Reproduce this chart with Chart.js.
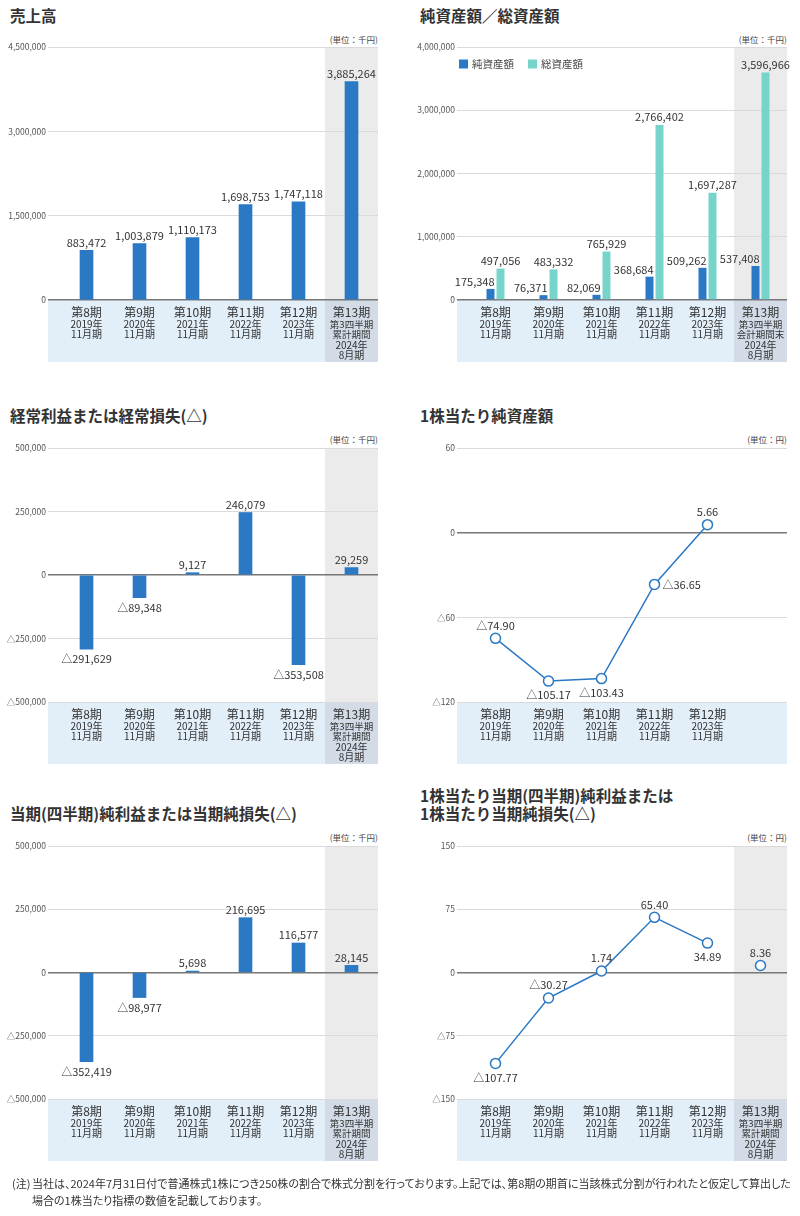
<!DOCTYPE html>
<html lang="ja">
<head>
<meta charset="utf-8">
<script src="https://cdn.jsdelivr.net/npm/chart.js@4.4.1/dist/chart.umd.min.js"></script>
<style>
  html, body { margin: 0; padding: 0; background: #fff; }
  body { width: 800px; height: 1216px; position: relative; overflow: hidden;
         font-family: 'Noto Sans CJK JP', sans-serif; color: #333; }
  canvas { position: absolute; }
  .title { position: absolute; font-size: 15.5px; font-weight: bold; line-height: 18px; white-space: nowrap; color: #333; }
  .unit { position: absolute; font-size: 8.5px; line-height: 10px; color: #444; white-space: nowrap; }
  .note { position: absolute; font-size: 11px; line-height: 13px; color: #333; white-space: nowrap; font-feature-settings: 'palt'; }
</style>
</head>
<body>
<div class="title" style="left:10px;top:6px">売上高</div>
<div class="title" style="left:420px;top:6px">純資産額／総資産額</div>
<div class="title" style="left:10px;top:406px">経常利益または経常損失(△)</div>
<div class="title" style="left:420px;top:406px">1株当たり純資産額</div>
<div class="title" style="left:10px;top:804px">当期(四半期)純利益または当期純損失(△)</div>
<div class="title" style="left:420px;top:786px">1株当たり当期(四半期)純利益または<br>1株当たり当期純損失(△)</div>

<div class="unit" style="right:422px;top:34px">(単位：千円)</div>
<div class="unit" style="right:13px;top:34px">(単位：千円)</div>
<div class="unit" style="right:422px;top:434px">(単位：千円)</div>
<div class="unit" style="right:13px;top:434px">(単位：円)</div>
<div class="unit" style="right:422px;top:832px">(単位：千円)</div>
<div class="unit" style="right:13px;top:832px">(単位：円)</div>

<canvas id="c1" width="400" height="380" style="left:0;top:0"></canvas>
<canvas id="c2" width="400" height="380" style="left:400px;top:0"></canvas>
<canvas id="c3" width="400" height="380" style="left:0;top:400px"></canvas>
<canvas id="c4" width="400" height="380" style="left:400px;top:400px"></canvas>
<canvas id="c5" width="400" height="400" style="left:0;top:780px"></canvas>
<canvas id="c6" width="400" height="400" style="left:400px;top:780px"></canvas>

<div class="note" style="left:12px;top:1177px">(注)</div>
<div class="note" style="left:32px;top:1177px">当社は、2024年7月31日付で普通株式1株につき250株の割合で株式分割を行っております。上記では、第8期の期首に当該株式分割が行われたと仮定して算出した</div>
<div class="note" style="left:32px;top:1194px">場合の1株当たり指標の数値を記載しております。</div>

<script>
// categories
const periods = ['第8期', '第9期', '第10期', '第11期', '第12期', '第13期'];
const periodNotes = [['2019年', '11月期'], ['2020年', '11月期'], ['2021年', '11月期'],
  ['2022年', '11月期'], ['2023年', '11月期'], ['第3四半期', '累計期間', '2024年', '8月期']];
const periodNotesBS = [['2019年', '11月期'], ['2020年', '11月期'], ['2021年', '11月期'],
  ['2022年', '11月期'], ['2023年', '11月期'], ['第3四半期', '会計期間末', '2024年', '8月期']];

// series (千円 / 円)
const sales = [883472, 1003879, 1110173, 1698753, 1747118, 3885264];
const netAssets = [175348, 76371, 82069, 368684, 509262, 537408];
const totalAssets = [497056, 483332, 765929, 2766402, 1697287, 3596966];
const ordinaryIncome = [-291629, -89348, 9127, 246079, -353508, 29259];
const bps = [-74.90, -105.17, -103.43, -36.65, 5.66];
const netIncome = [-352419, -98977, 5698, 216695, 116577, 28145];
const eps = [-107.77, -30.27, 1.74, 65.40, 34.89];
const epsQuarter = 8.36;

const BLUE = '#2b78c4', TEAL = '#76d4cb';
const FONT = "'Noto Sans CJK JP', sans-serif";
const BAND = 62;
Chart.defaults.font.family = FONT;

const fmt = (v, d) => (v < 0 ? '△' : '') +
  Math.abs(v).toLocaleString('en-US', { minimumFractionDigits: d, maximumFractionDigits: d });
const pts = (arr, start = 0) => arr.map((v, i) => ({ x: start + i, y: v }));

const panel = {
  id: 'panel',
  beforeDraw(chart, _, o) {
    const { ctx, chartArea: a } = chart;
    const x = chart.scales.x;
    ctx.save();
    ctx.fillStyle = '#e2eef8';
    ctx.fillRect(a.left, a.bottom, a.width, BAND);
    if (o.highlight) {
      const hx = x.getPixelForValue(4.5);
      ctx.fillStyle = '#ebebeb';
      ctx.fillRect(hx, a.top, a.right - hx, a.height);
      ctx.fillStyle = '#d3dce6';
      ctx.fillRect(hx, a.bottom, a.right - hx, BAND);
    }
    ctx.restore();
  },
  afterDatasetsDraw(chart, _, o) {
    const ctx = chart.ctx;
    ctx.save();
    ctx.fillStyle = '#333';
    ctx.font = '11px ' + FONT;
    ctx.textBaseline = 'middle';
    chart.data.datasets.forEach((ds, di) => {
      chart.getDatasetMeta(di).data.forEach((el, i) => {
        const v = ds.data[i].y;
        const pos = (ds.labelPos && ds.labelPos[i]) || (v < 0 ? 'below' : 'above');
        let tx = el.x, ty = el.y;
        ctx.textAlign = 'center';
        if (pos === 'above') ty -= o.above;
        else if (pos === 'below') ty += o.below;
        else if (pos === 'right') { ctx.textAlign = 'left'; tx += 8; }
        else if (pos === 'left') { ctx.textAlign = 'right'; tx += 4; ty -= o.above - 1; }
        ctx.fillText(fmt(v, o.decimals), tx, ty);
      });
    });
    ctx.restore();
  },
  afterDraw(chart, _, o) {
    const { ctx, chartArea: a } = chart;
    const x = chart.scales.x;
    ctx.save();
    ctx.fillStyle = '#333';
    ctx.textAlign = 'center';
    ctx.textBaseline = 'middle';
    o.names.forEach((name, i) => {
      const cx = x.getPixelForValue(i);
      ctx.font = '12px ' + FONT;
      ctx.fillText(name, cx, a.bottom + 12);
      o.notes[i].forEach((t, k) => {
        ctx.font = (i === 5 && !/^\d/.test(t) ? '9.5px ' : '10px ') + FONT;
        ctx.fillText(t, cx, a.bottom + 24 + k * 10.5);
      });
    });
    if (o.legend) {
      let lx = a.left + 2;
      const ly = a.top + 17;
      ctx.font = '10.5px ' + FONT;
      ctx.textAlign = 'left';
      chart.data.datasets.forEach(ds => {
        ctx.fillStyle = ds.backgroundColor;
        ctx.fillRect(lx, ly - 4.5, 9, 9);
        ctx.fillStyle = '#444';
        ctx.fillText(ds.label, lx + 13, ly);
        lx += 69;
      });
    }
    ctx.restore();
  }
};

function makeChart(id, c) {
  return new Chart(document.getElementById(id), {
    type: c.type,
    data: { datasets: c.datasets },
    plugins: [panel],
    options: {
      responsive: false,
      animation: false,
      devicePixelRatio: 1,
      layout: { padding: c.pad },
      plugins: {
        legend: { display: false },
        tooltip: { enabled: false },
        panel: {
          highlight: c.highlight, names: c.names, notes: c.notes, legend: c.legend,
          decimals: c.decimals || 0, above: c.above, below: c.below
        }
      },
      scales: {
        x: {
          type: 'linear', display: false, offset: false,
          min: -0.5 - 12 / 53, max: 5.5,
          ticks: { stepSize: 1, includeBounds: false }
        },
        y: {
          min: c.yMin, max: c.yMax,
          ticks: {
            stepSize: c.step, padding: 2, color: '#555',
            font: { size: 8.5 },
            callback: v => fmt(v, 0)
          },
          grid: {
            drawTicks: false,
            color: g => g.tick.value === 0 ? '#777' : '#dadada',
            lineWidth: g => g.tick.value === 0 ? 1.5 : 1
          },
          border: { display: false },
          afterFit(s) { s.width = c.yWidth; }
        }
      }
    }
  });
}

window.addEventListener('load', function() {
  makeChart('c1', {
    type: 'bar',
    datasets: [{ data: pts(sales), backgroundColor: BLUE, barThickness: 13 }],
    yMin: 0, yMax: 4500000, step: 1500000, yWidth: 48,
    pad: { top: 47, right: 22, bottom: 80, left: 0 },
    highlight: true, names: periods, notes: periodNotes, above: 8, below: 10
  });

  makeChart('c2', {
    type: 'bar',
    datasets: [
      { label: '純資産額', data: pts(netAssets), backgroundColor: BLUE,
        categoryPercentage: 20 / 53, barPercentage: 0.8, labelPos: netAssets.map(() => 'left') },
      { label: '総資産額', data: pts(totalAssets), backgroundColor: TEAL,
        categoryPercentage: 20 / 53, barPercentage: 0.8 }
    ],
    yMin: 0, yMax: 4000000, step: 1000000, yWidth: 57,
    pad: { top: 47, right: 13, bottom: 80, left: 0 },
    highlight: true, legend: true, names: periods, notes: periodNotesBS, above: 8, below: 10
  });

  makeChart('c3', {
    type: 'bar',
    datasets: [{ data: pts(ordinaryIncome), backgroundColor: BLUE, barThickness: 13 }],
    yMin: -500000, yMax: 500000, step: 250000, yWidth: 48,
    pad: { top: 48, right: 22, bottom: 78, left: 0 },
    highlight: true, names: periods, notes: periodNotes, above: 8, below: 10
  });

  makeChart('c4', {
    type: 'line',
    datasets: [{
      data: pts(bps), borderColor: BLUE, borderWidth: 1.5,
      pointRadius: 5, pointBorderWidth: 1.5, pointBackgroundColor: '#fff', pointBorderColor: BLUE,
      labelPos: ['above', 'below', 'below', 'right', 'above']
    }],
    yMin: -120, yMax: 60, step: 60, yWidth: 57,
    pad: { top: 48, right: 13, bottom: 78, left: 0 },
    highlight: false, names: periods.slice(0, 5), notes: periodNotes.slice(0, 5),
    decimals: 2, above: 13, below: 14
  });

  makeChart('c5', {
    type: 'bar',
    datasets: [{ data: pts(netIncome), backgroundColor: BLUE, barThickness: 13 }],
    yMin: -500000, yMax: 500000, step: 250000, yWidth: 48,
    pad: { top: 66, right: 22, bottom: 81, left: 0 },
    highlight: true, names: periods, notes: periodNotes, above: 8, below: 10
  });

  makeChart('c6', {
    type: 'line',
    datasets: [
      { data: pts(eps), borderColor: BLUE, borderWidth: 1.5,
        pointRadius: 5, pointBorderWidth: 1.5, pointBackgroundColor: '#fff', pointBorderColor: BLUE,
        labelPos: ['below', 'above', 'above', 'above', 'below'] },
      { data: pts([epsQuarter], 5), showLine: false, borderColor: BLUE,
        pointRadius: 5, pointBorderWidth: 1.5, pointBackgroundColor: '#fff', pointBorderColor: BLUE,
        labelPos: ['above'] }
    ],
    yMin: -150, yMax: 150, step: 75, yWidth: 57,
    pad: { top: 66, right: 13, bottom: 81, left: 0 },
    highlight: true, names: periods, notes: periodNotes, decimals: 2, above: 13, below: 14
  });
});
</script>
</body>
</html>
